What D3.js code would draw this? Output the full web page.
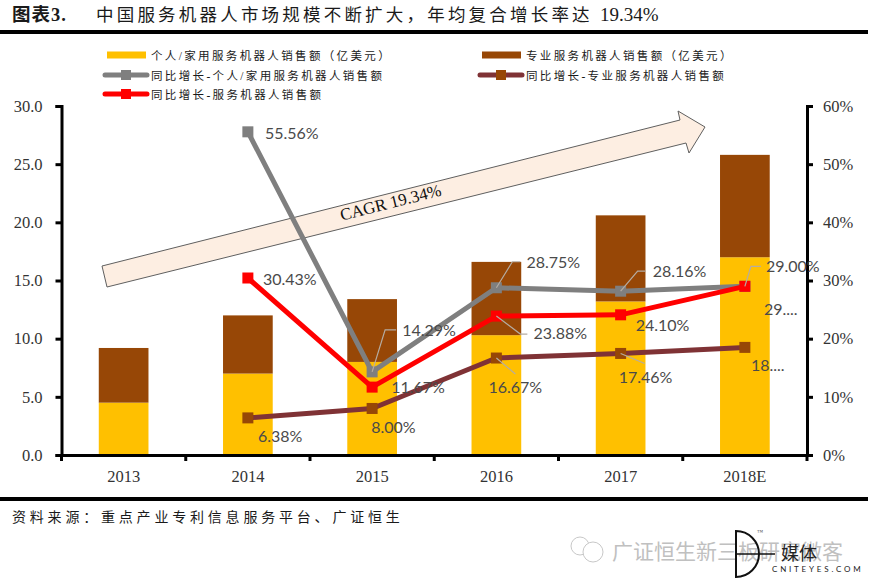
<!DOCTYPE html>
<html>
<head>
<meta charset="utf-8">
<script src="https://cdn.jsdelivr.net/npm/d3@7"></script>
<style>
  body { margin: 0; background: #fff; }
  text { font-family: "Liberation Serif", "Noto Sans CJK SC", serif; }
  .cn { font-family: "Liberation Serif", "Noto Sans CJK SC", serif; fill: #1a1a1a; }
  .lbl { font-family: Lato, "Open Sans", sans-serif; font-size: 16px; fill: #4a4a4a; }
  .tick text { font-size: 16.5px; fill: #333; }
</style>
</head>
<body>
<div id="container"></div>
<script>
/* CONSTANTS AND DATA */
const width = 870, height = 588;
const margin = { top: 106, bottom: 133, left: 61.5, right: 63 };

const years = ["2013", "2014", "2015", "2016", "2017", "2018E"];
const personalSales = [4.5, 7.0, 8.0, 10.3, 13.2, 17.0];
const professionalSales = [4.7, 5.0, 5.4, 6.3, 7.4, 8.8];
const growthPersonal = [null, 55.56, 14.29, 28.75, 28.16, 29.0];
const growthProfessional = [null, 6.38, 8.0, 16.67, 17.46, 18.5];
const growthTotal = [null, 30.43, 11.67, 23.88, 24.1, 29.0];
const leftTicks = [0, 5, 10, 15, 20, 25, 30];
const rightTicks = [0, 10, 20, 30, 40, 50, 60];

const labelsPersonal = ["", "55.56%", "14.29%", "28.75%", "28.16%", "29.00%"];
const labelsProfessional = ["", "6.38%", "8.00%", "16.67%", "17.46%", "18...."];
const labelsTotal = ["", "30.43%", "11.67%", "23.88%", "24.10%", "29...."];

// label offset from its point, by year index
const offsetsPersonal = [null, [17, 7], [30, -36], [30, -20], [32, -14], [21, -14]];
const offsetsProfessional = [null, [10, 24], [-1, 25], [-8, 35], [-2, 30], [6, 24]];
const offsetsTotal = [null, [15, 7], [19, 6], [37, 23], [15, 16], [19, 29]];

// leader lines: series, year index, bend and end relative to the point
const leaders = [
  [growthPersonal, 2, [13, -42], [24, -42]],
  [growthPersonal, 3, [16, -26], [24, -26]],
  [growthPersonal, 4, [17, -20], [25, -20]],
  [growthPersonal, 5, [6, -20], [16, -20]],
  [growthTotal, 3, [24, 18], [31, 18]],
  [growthProfessional, 3, [19, 16], [19, 16]],
  [growthProfessional, 4, [24, 10], [24, 10]]
];

/* SCALES */
const x = d3.scaleBand()
  .domain(years)
  .range([margin.left, width - margin.right])
  .paddingInner(0.6)
  .paddingOuter(0.3);
const yLeft = d3.scaleLinear().domain([0, 30]).range([height - margin.bottom, margin.top]);
const yRight = d3.scaleLinear().domain([0, 60]).range([height - margin.bottom, margin.top]);
const cx = i => x(years[i]) + x.bandwidth() / 2;

const svg = d3.select("#container").append("svg")
  .attr("width", width)
  .attr("height", height)
  .style("display", "block");

/* TITLE AND RULES */
svg.append("text").attr("class", "cn").attr("x", 12).attr("y", 21)
  .style("font-size", "18.5px").style("font-weight", 700).style("letter-spacing", "1px").text("图表3.");
const title = svg.append("text").attr("class", "cn").attr("x", 96).attr("y", 21);
title.append("tspan").style("font-size", "17.5px").style("letter-spacing", "3.2px")
  .text("中国服务机器人市场规模不断扩大，年均复合增长率达");
title.append("tspan").attr("x", 600).style("font-size", "19px").text("19.34%");
svg.append("rect").attr("x", 0).attr("y", 30).attr("width", 868).attr("height", 4).attr("fill", "#000");
svg.append("rect").attr("x", 0).attr("y", 497).attr("width", 868).attr("height", 4).attr("fill", "#000");
svg.append("text").attr("class", "cn").attr("x", 12).attr("y", 522)
  .style("font-size", "14px").style("letter-spacing", "3.8px")
  .text("资料来源：重点产业专利信息服务平台、广证恒生");

/* BARS */
svg.selectAll(".bar-personal").data(personalSales).join("rect")
  .attr("class", "bar-personal")
  .attr("x", (d, i) => x(years[i]))
  .attr("width", x.bandwidth())
  .attr("y", d => yLeft(d))
  .attr("height", d => yLeft(0) - yLeft(d))
  .attr("fill", "#ffc000");
svg.selectAll(".bar-professional").data(professionalSales).join("rect")
  .attr("class", "bar-professional")
  .attr("x", (d, i) => x(years[i]))
  .attr("width", x.bandwidth())
  .attr("y", (d, i) => yLeft(d + personalSales[i]))
  .attr("height", d => yLeft(0) - yLeft(d))
  .attr("fill", "#974706");

/* CAGR ARROW */
svg.append("path")
  .attr("d", "M102,266 L680,120 L678,111 L705,127 L689,153 L686,143 L107,287 Z")
  .attr("fill", "#fdeee2")
  .attr("stroke", "#5f5f5f")
  .attr("stroke-width", 1);
svg.append("text").attr("transform", "translate(392,208) rotate(-14.2)")
  .attr("text-anchor", "middle")
  .style("font-size", "17px").style("fill", "#111")
  .text("CAGR 19.34%");

/* AXES */
function styleAxis(g) {
  g.select(".domain").attr("stroke", "#000").attr("stroke-width", 3);
  g.selectAll(".tick line").attr("stroke", "#000").attr("stroke-width", 3);
}
svg.append("g")
  .attr("transform", `translate(${margin.left},0)`)
  .call(d3.axisLeft(yLeft).tickValues(leftTicks).tickFormat(d3.format(".1f")).tickSize(6).tickSizeOuter(6).tickPadding(13))
  .call(styleAxis);
svg.append("g")
  .attr("transform", `translate(${width - margin.right},0)`)
  .call(d3.axisRight(yRight).tickValues(rightTicks).tickFormat(d => d + "%").tickSize(6).tickSizeOuter(6).tickPadding(10))
  .call(styleAxis);
svg.append("g")
  .attr("transform", `translate(0,${yLeft(0)})`)
  .call(d3.axisBottom(x).tickSize(0).tickPadding(15))
  .call(styleAxis);
// x ticks sit between the categories, not at their centres
const step = x.step();
svg.selectAll(".xtick").data(d3.range(years.length + 1)).join("line")
  .attr("class", "xtick")
  .attr("x1", i => margin.left + i * step)
  .attr("x2", i => margin.left + i * step)
  .attr("y1", yLeft(0))
  .attr("y2", yLeft(0) + 6)
  .attr("stroke", "#000")
  .attr("stroke-width", 3);

/* LINES */
const line = d3.line()
  .defined(d => d != null)
  .x((d, i) => cx(i))
  .y(d => yRight(d));

function drawLine(values, lineColor, markColor) {
  svg.append("path").datum(values)
    .attr("d", line)
    .attr("fill", "none")
    .attr("stroke", lineColor)
    .attr("stroke-width", 5)
    .attr("stroke-linejoin", "round");
  const points = values.map((v, i) => ({ v, i })).filter(p => p.v != null);
  svg.append("g").selectAll("rect").data(points).join("rect")
    .attr("x", p => cx(p.i) - 5.5)
    .attr("y", p => yRight(p.v) - 5.5)
    .attr("width", 11)
    .attr("height", 11)
    .attr("fill", markColor);
}
drawLine(growthPersonal, "#7f7f7f", "#7f7f7f");
drawLine(growthProfessional, "#7f3235", "#974706");
drawLine(growthTotal, "#ff0000", "#ff0000");

/* LEADER LINES */
svg.selectAll(".leader").data(leaders).join("polyline")
  .attr("class", "leader")
  .attr("points", ([s, i, a, b]) => {
    const px = cx(i), py = yRight(s[i]);
    return [[px, py], [px + a[0], py + a[1]], [px + b[0], py + b[1]]].join(" ");
  })
  .attr("fill", "none")
  .attr("stroke", "#b5aca2")
  .attr("stroke-width", 1.2);

/* DATA LABELS */
function drawLabels(values, labels, offsets) {
  labels.forEach((t, i) => {
    if (!t) return;
    svg.append("text").attr("class", "lbl")
      .attr("x", cx(i) + offsets[i][0])
      .attr("y", yRight(values[i]) + offsets[i][1])
      .text(t);
  });
}
drawLabels(growthPersonal, labelsPersonal, offsetsPersonal);
drawLabels(growthProfessional, labelsProfessional, offsetsProfessional);
drawLabels(growthTotal, labelsTotal, offsetsTotal);

/* LEGEND */
const legendText = [
  "个人/家用服务机器人销售额（亿美元）",
  "专业服务机器人销售额（亿美元）",
  "同比增长-个人/家用服务机器人销售额",
  "同比增长-专业服务机器人销售额",
  "同比增长-服务机器人销售额"
];
const legendColor = ["#ffc000", "#974706", "#7f7f7f", "#7f3235", "#ff0000"];
const legendMark = [null, null, "#7f7f7f", "#974706", "#ff0000"];
const legendX = [107, 482, 107, 482, 107];
const legendY = [55, 55, 75, 75, 94];
legendText.forEach((t, i) => {
  const g = svg.append("g").attr("transform", `translate(${legendX[i]},${legendY[i]})`);
  if (legendMark[i]) {
    g.append("line").attr("x1", -2).attr("x2", 40)
      .attr("stroke", legendColor[i]).attr("stroke-width", 5).attr("stroke-linecap", "round");
    g.append("rect").attr("x", 14).attr("y", -5).attr("width", 10).attr("height", 10).attr("fill", legendMark[i]);
  } else {
    g.append("rect").attr("x", 0).attr("y", -3.5).attr("width", 39).attr("height", 7).attr("fill", legendColor[i]);
  }
  g.append("text").attr("class", "cn").attr("x", 44).attr("y", 4.5)
    .style("font-size", "11.5px").style("letter-spacing", "2.35px").text(t);
});

/* WATERMARK */
const wm = svg.append("g");
wm.append("text").attr("x", 612).attr("y", 559)
  .style("font-size", "21px").style("fill", "#c0c0c0").text("广证恒生新三板研究微客");
wm.append("circle").attr("cx", 580).attr("cy", 546).attr("r", 9)
  .attr("fill", "none").attr("stroke", "#c8c8c8");
wm.append("circle").attr("cx", 593).attr("cy", 552).attr("r", 10)
  .attr("fill", "#fff").attr("stroke", "#c8c8c8");
wm.append("path").attr("d", "M736,531 A23,23 0 0 1 736,577 Z")
  .attr("fill", "none").attr("stroke", "#111").attr("stroke-width", 2);
wm.append("path").attr("d", "M736,554 H775").attr("stroke", "#111").attr("stroke-width", 1.5);
wm.append("text").attr("x", 757).attr("y", 534)
  .style("font-size", "6px").style("fill", "#555").text("™");
wm.append("text").attr("x", 781).attr("y", 560)
  .style("font-size", "18px").style("fill", "#222").text("媒体");
wm.append("text").attr("x", 772).attr("y", 572)
  .style("font-family", "Lato, sans-serif").style("font-size", "8px").style("letter-spacing", "2.8px").style("fill", "#222")
  .text("CNITEYES.COM");
</script>
</body>
</html>
